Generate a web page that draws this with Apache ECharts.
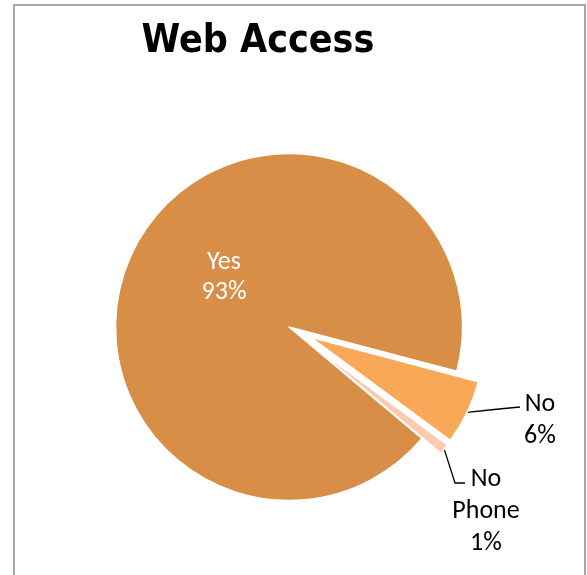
<!DOCTYPE html>
<html>
<head>
<meta charset="utf-8">
<title>Web Access</title>
<script src="https://cdn.jsdelivr.net/npm/echarts@6/dist/echarts.min.js"></script>
<style>
  html, body { margin: 0; padding: 0; background: #ffffff; }
  #chart { width: 587px; height: 575px; }
</style>
</head>
<body>
<div id="chart"></div>
<script>
// Survey answers and their share of respondents (percent)
const categories = ['Yes', 'No', 'No Phone'];
const values = [93, 6, 1];
const sliceColors = ['#D98E48', '#F9A857', '#FCCBAD'];
const chartTitle = 'Web Access';

// Pie geometry and how far each slice is pulled out
const pieCenter = [289, 327];
const pieRadius = 173.5;
const startAngle = -40;
const explode = [0, 24, 24];

const labelFont = 'Carlito, Lato, sans-serif';

// Where each label block sits, and how its leader line runs
const labelPlacement = [
  { x: 224, y: 277, lineHeight: 30 },
  { x: 540, y: 420, lineHeight: 32, line: [[494, 409.5], [520, 407]] },
  { x: 486, y: 511, lineHeight: 32, line: [[455, 483], [465, 483]] }
];

const total = values.reduce((a, b) => a + b, 0);

// Centre of the pie copy that carries slice i, moved out along the slice's middle angle
function sliceCenter(i) {
  const before = values.slice(0, i).reduce((a, b) => a + b, 0);
  const mid = (startAngle - 360 * (before + values[i] / 2) / total) * Math.PI / 180;
  return [pieCenter[0] + explode[i] * Math.cos(mid), pieCenter[1] - explode[i] * Math.sin(mid)];
}

function labelLayout(params) {
  const place = labelPlacement[params.dataIndex];
  if (!place) return;
  const out = { x: place.x, y: place.y, align: 'center', verticalAlign: 'middle' };
  if (place.line && params.labelLinePoints) {
    out.labelLinePoints = [params.labelLinePoints[0]].concat(place.line);
  }
  return out;
}

// Each slice is drawn by its own copy of the full pie, so every copy keeps the
// same angles and percentages while only its own slice is visible.
const series = categories.map((cat, i) => ({
  type: 'pie',
  name: cat,
  center: sliceCenter(i),
  radius: [0, pieRadius],
  startAngle: startAngle,
  clockwise: true,
  percentPrecision: 0,
  avoidLabelOverlap: false,
  selectedMode: false,
  emphasis: { disabled: true },
  silent: true,
  z: 2 + i,
  label: {
    fontFamily: labelFont,
    fontSize: 26,
    align: 'center',
    formatter: p => p.name.replace(' ', '\n') + '\n' + p.percent + '%'
  },
  labelLine: { lineStyle: { color: '#000000', width: 1.3 } },
  labelLayout: labelLayout,
  data: categories.map((name, j) => ({
    name: name,
    value: values[j],
    itemStyle: j === i
      ? { color: sliceColors[j], borderColor: '#ffffff', borderWidth: 1.5 }
      : { color: 'rgba(0,0,0,0)', borderWidth: 0 },
    label: {
      show: j === i,
      position: j === 0 ? 'inside' : 'outside',
      color: j === 0 ? '#ffffff' : '#000000',
      lineHeight: labelPlacement[j].lineHeight
    },
    labelLine: { show: j === i && j > 0 }
  }))
}));

const chart = echarts.init(document.getElementById('chart'), null, { renderer: 'canvas' });

chart.setOption({
  animation: false,
  backgroundColor: '#ffffff',
  title: {
    text: chartTitle,
    left: 253,
    top: 17,
    textAlign: 'center',
    textStyle: {
      fontFamily: '"DejaVu Sans Condensed", "Liberation Sans Narrow", sans-serif',
      fontWeight: 'bold',
      fontSize: 39,
      color: '#000000'
    }
  },
  graphic: [{
    type: 'rect',
    shape: { x: 14, y: 5, width: 571, height: 600 },
    style: { fill: 'none', stroke: '#A6A6A6', lineWidth: 2 },
    silent: true,
    z: 0
  }],
  series: series
});
</script>
</body>
</html>
